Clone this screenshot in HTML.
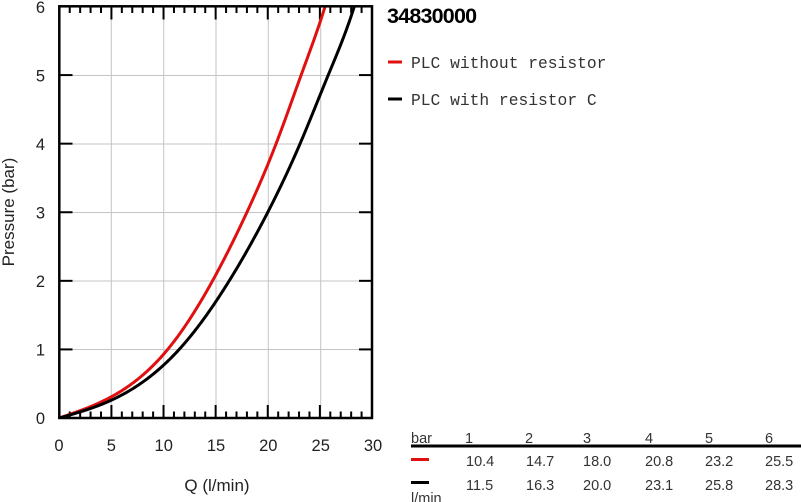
<!DOCTYPE html>
<html>
<head>
<meta charset="utf-8">
<style>
  html, body { margin: 0; padding: 0; background: #ffffff; }
  body { width: 801px; height: 502px; overflow: hidden; position: relative; }
  svg { position: absolute; left: 0; top: 0; }
  text { font-family: "Liberation Sans", Arial, sans-serif; }
  .mono { font-family: "Liberation Mono", "DejaVu Sans Mono", monospace; }
</style>
</head>
<body>
<svg id="chart" width="801" height="502" viewBox="0 0 801 502" xmlns="http://www.w3.org/2000/svg">
  <defs>
    <clipPath id="plotclip">
      <rect x="59" y="6" width="314" height="413"/>
    </clipPath>
  </defs>

  <!-- grid -->
  <g stroke="#c4c4c4" stroke-width="1">
    <line x1="111.3" y1="7" x2="111.3" y2="418"/>
    <line x1="163.7" y1="7" x2="163.7" y2="418"/>
    <line x1="216" y1="7" x2="216" y2="418"/>
    <line x1="268.3" y1="7" x2="268.3" y2="418"/>
    <line x1="320.7" y1="7" x2="320.7" y2="418"/>
    <line x1="59" y1="349.5" x2="373" y2="349.5"/>
    <line x1="59" y1="281" x2="373" y2="281"/>
    <line x1="59" y1="212.5" x2="373" y2="212.5"/>
    <line x1="59" y1="144" x2="373" y2="144"/>
    <line x1="59" y1="75.5" x2="373" y2="75.5"/>
  </g>

  <!-- ticks -->
  <g id="ticks" stroke="#000" stroke-width="2"></g>

  <!-- curves -->
  <g clip-path="url(#plotclip)" fill="none" stroke-width="3" stroke-linejoin="round" stroke-linecap="round">
    <path id="red" stroke="#e01010" d=""/>
    <path id="black" stroke="#000000" d=""/>
  </g>

  <!-- frame -->
  <rect x="59.3" y="6.3" width="312.7" height="411.7" fill="none" stroke="#000" stroke-width="2.5"/>

  <!-- y tick labels -->
  <g font-size="16.5" fill="#222" text-anchor="end">
    <text x="45" y="424">0</text>
    <text x="45" y="355.5">1</text>
    <text x="45" y="287">2</text>
    <text x="45" y="218.5">3</text>
    <text x="45" y="150">4</text>
    <text x="45" y="81.5">5</text>
    <text x="45" y="13">6</text>
  </g>

  <!-- x tick labels -->
  <g font-size="16.5" fill="#222" text-anchor="middle">
    <text x="59" y="451">0</text>
    <text x="111.3" y="451">5</text>
    <text x="163.7" y="451">10</text>
    <text x="216" y="451">15</text>
    <text x="268.3" y="451">20</text>
    <text x="320.7" y="451">25</text>
    <text x="373" y="451">30</text>
  </g>

  <!-- axis titles -->
  <text x="217" y="491" font-size="17" fill="#222" text-anchor="middle">Q (l/min)</text>
  <text transform="translate(14,212) rotate(-90)" font-size="17" fill="#222" text-anchor="middle">Pressure (bar)</text>

  <!-- title -->
  <text x="387" y="23" font-size="21.5" font-weight="bold" fill="#000" letter-spacing="-0.8">34830000</text>

  <!-- legend -->
  <line x1="388" y1="62" x2="402" y2="62" stroke="#e01010" stroke-width="3"/>
  <text class="mono" x="411" y="68" font-size="16.3" fill="#333">PLC without resistor</text>
  <line x1="388" y1="99" x2="402" y2="99" stroke="#000" stroke-width="3"/>
  <text class="mono" x="411" y="105" font-size="16.3" fill="#333">PLC with resistor C</text>

  <!-- table -->
  <g font-size="14.5" fill="#333">
    <text x="411" y="443">bar</text>
    <text x="465" y="443">1</text>
    <text x="525" y="443">2</text>
    <text x="583" y="443">3</text>
    <text x="645" y="443">4</text>
    <text x="705" y="443">5</text>
    <text x="765" y="443">6</text>

    <text x="466" y="466">10.4</text>
    <text x="526" y="466">14.7</text>
    <text x="583" y="466">18.0</text>
    <text x="645" y="466">20.8</text>
    <text x="705" y="466">23.2</text>
    <text x="765" y="466">25.5</text>

    <text x="466" y="490">11.5</text>
    <text x="526" y="490">16.3</text>
    <text x="583" y="490">20.0</text>
    <text x="645" y="490">23.1</text>
    <text x="705" y="490">25.8</text>
    <text x="765" y="490">28.3</text>

    <text x="411" y="503">l/min</text>
  </g>
  <line x1="411" y1="446" x2="801" y2="446" stroke="#000" stroke-width="3"/>
  <line x1="411" y1="459.5" x2="429" y2="459.5" stroke="#e01010" stroke-width="3"/>
  <line x1="411" y1="482.5" x2="429" y2="482.5" stroke="#000" stroke-width="3"/>
</svg>

<script>
(function(){
  var X0 = 59.3, X1 = 372, Y0 = 418, PPB = (418 - 6.5) / 6;
  function X(q){ return X0 + q * (X1 - X0) / 30; }
  function Y(p){ return Y0 - p * PPB; }

  var g = document.getElementById('ticks');
  var ns = 'http://www.w3.org/2000/svg';
  function line(x1,y1,x2,y2){
    var l = document.createElementNS(ns,'line');
    l.setAttribute('x1',x1); l.setAttribute('y1',y1);
    l.setAttribute('x2',x2); l.setAttribute('y2',y2);
    g.appendChild(l);
  }
  for (var q = 1; q < 30; q++) {
    var len = (q % 5 === 0) ? 13 : 6.5;
    var x = X(q);
    line(x, 418, x, 418 - len);
    line(x, 6.5, x, 6.5 + len);
  }
  for (var p = 1; p < 6; p++) {
    var y = Y(p);
    line(59, y, 72.5, y);
    line(359, y, 372, y);
  }

  // natural cubic spline
  function spline(pts){
    var n = pts.length, xs = [], ys = [];
    for (var i = 0; i < n; i++){ xs.push(pts[i][0]); ys.push(pts[i][1]); }
    var h = [], a = [], l = [1], mu = [0], z = [0], c = new Array(n).fill(0), b = [], d = [];
    for (i = 0; i < n - 1; i++) h.push(xs[i+1]-xs[i]);
    for (i = 1; i < n - 1; i++) a[i] = 3/h[i]*(ys[i+1]-ys[i]) - 3/h[i-1]*(ys[i]-ys[i-1]);
    for (i = 1; i < n - 1; i++) {
      l[i] = 2*(xs[i+1]-xs[i-1]) - h[i-1]*mu[i-1];
      mu[i] = h[i]/l[i];
      z[i] = (a[i] - h[i-1]*z[i-1]) / l[i];
    }
    l[n-1] = 1; z[n-1] = 0; c[n-1] = 0;
    for (var j = n - 2; j >= 0; j--) {
      c[j] = z[j] - mu[j]*c[j+1];
      b[j] = (ys[j+1]-ys[j])/h[j] - h[j]*(c[j+1] + 2*c[j])/3;
      d[j] = (c[j+1]-c[j])/(3*h[j]);
    }
    return function(x){
      var k = 0;
      while (k < n - 2 && x > xs[k+1]) k++;
      var t = x - xs[k];
      return ys[k] + b[k]*t + c[k]*t*t + d[k]*t*t*t;
    };
  }
  function build(pts, id){
    var f = spline(pts);
    var xmax = pts[pts.length-1][0];
    var s = '';
    for (var q = 0; q <= xmax + 1e-9; q += 0.1) {
      s += (q === 0 ? 'M' : 'L') + X(q).toFixed(2) + ',' + Y(f(q)).toFixed(2);
    }
    document.getElementById(id).setAttribute('d', s);
  }
  build([[0,0],[5,0.31],[10.4,1],[14.7,2],[18,3],[20.8,4],[23.2,5],[25.5,6],[26,6.25]], 'red');
  build([[0,0],[5,0.26],[11.5,1],[16.3,2],[20,3],[23.1,4],[25.8,5],[28.3,6],[28.8,6.25]], 'black');
})();
</script>
</body>
</html>
